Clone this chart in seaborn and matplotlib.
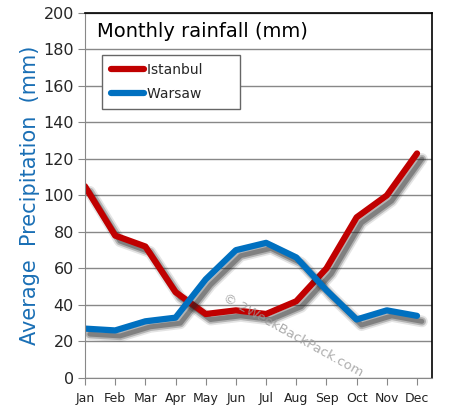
import pandas as pd
import seaborn as sns
import matplotlib.pyplot as plt
import matplotlib.patheffects as pe

# Monthly rainfall values (mm)
months = ['Jan', 'Feb', 'Mar', 'Apr', 'May', 'Jun',
          'Jul', 'Aug', 'Sep', 'Oct', 'Nov', 'Dec']
istanbul = [105, 78, 72, 47, 35, 37, 35, 42, 60, 88, 100, 123]
warsaw = [27, 26, 31, 33, 54, 70, 74, 66, 48, 32, 37, 34]

df = pd.DataFrame({
    'month': list(range(12)) * 2,
    'rain': istanbul + warsaw,
    'city': ['Istanbul'] * 12 + ['Warsaw'] * 12,
})

sns.set_style('white')
plt.rcParams['font.family'] = ['DejaVu Sans']

fig = plt.figure(figsize=(4.52, 4.18), dpi=100)
ax = fig.add_axes([0.188, 0.096, 0.768, 0.873])

# soft drop shadow: a few stacked translucent strokes
shadow = [pe.SimpleLineShadow(offset=(3.5, -4), shadow_color='#222222', alpha=0.12, linewidth=8.5),
          pe.SimpleLineShadow(offset=(3.5, -4), shadow_color='#222222', alpha=0.25, linewidth=6),
          pe.SimpleLineShadow(offset=(3.5, -4), shadow_color='#222222', alpha=0.35, linewidth=3.5),
          pe.Normal()]

sns.lineplot(data=df, x='month', y='rain', hue='city',
             palette={'Istanbul': '#c00000', 'Warsaw': '#0070c0'},
             linewidth=4.5, ax=ax, legend=False)
for line in ax.get_lines():
    line.set_solid_joinstyle('round')
    line.set_solid_capstyle('round')
    line.set_path_effects(shadow)

ax.set_xlim(0, 11.5)
ax.set_ylim(0, 200)
ax.set_yticks(range(0, 201, 20))
ax.set_xticks(range(12))
ax.set_xticklabels(months, fontsize=9, color='#222222')
ax.tick_params(axis='y', labelsize=11.5, length=5, direction='out', left=True, color='#888888', pad=3)
ax.tick_params(axis='x', length=5, direction='out', bottom=True, color='#888888', pad=5)
ax.yaxis.grid(True, color='#888888', linewidth=1)
ax.set_axisbelow(True)

for s in ['left', 'bottom']:
    ax.spines[s].set_color('#888888')
for s in ['top', 'right']:
    ax.spines[s].set_color('black')
    ax.spines[s].set_linewidth(1.2)

ax.set_xlabel('')
ax.set_ylabel('Average  Precipitation  (mm)', fontsize=15, color='#1a6fb5', labelpad=2)

ax.text(0.035, 0.95, 'Monthly rainfall (mm)', transform=ax.transAxes,
        fontsize=14, color='black', va='center')

# legend drawn from the line handles
handles = [plt.Line2D([], [], color='#c00000', linewidth=4.5, solid_capstyle='round'),
           plt.Line2D([], [], color='#0070c0', linewidth=4.5, solid_capstyle='round')]
leg = ax.legend(handles, ['Istanbul      ', 'Warsaw       '], loc='upper left',
                bbox_to_anchor=(0.05, 0.885), fontsize=10, frameon=True,
                fancybox=False, edgecolor='#666666', handlelength=2.4,
                handletextpad=0.2, borderpad=0.6, labelspacing=0.7,
                borderaxespad=0)
leg.get_frame().set_linewidth(1)
leg.get_frame().set_facecolor('white')
leg.get_frame().set_alpha(1)

ax.text(0.60, 0.118, '\u00a9 2WeekBackPack.com', transform=ax.transAxes,
        fontsize=9.5, color='#999999', rotation=-29, ha='center', va='center', alpha=0.8)

fig.savefig('out.png', dpi=100)
